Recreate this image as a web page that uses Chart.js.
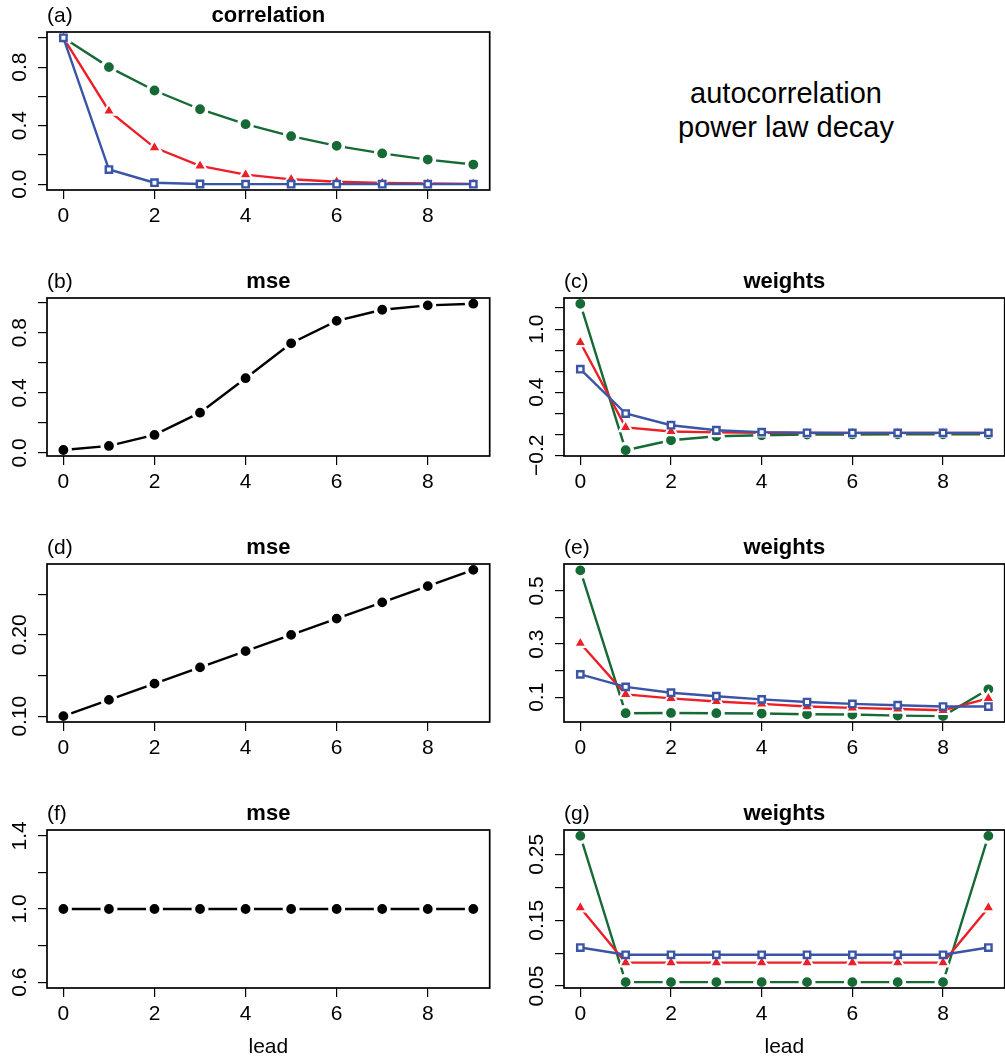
<!DOCTYPE html>
<html>
<head>
<meta charset="utf-8">
<script src="https://cdn.jsdelivr.net/npm/chart.js@4.4.1/dist/chart.umd.min.js"></script>
<style>
  html, body { margin: 0; padding: 0; background: #fff; overflow: hidden; }
  #wrap { position: relative; width: 1005px; height: 1061px; overflow: hidden; background: #fff; }
  canvas { position: absolute; }
  #note { position: absolute; left: 586px; width: 400px; top: 77.2px; text-align: center;
          font-family: "Liberation Sans", Arial, Helvetica, sans-serif; font-size: 29px;
          line-height: 33.4px; color: #000; }
</style>
</head>
<body>
<div id="wrap">
  <div id="note">autocorrelation<br>power law decay</div>
  <canvas id="ca" width="500" height="266" style="left:0;top:0"></canvas>
  <canvas id="cb" width="500" height="266" style="left:0;top:266px"></canvas>
  <canvas id="cc" width="515" height="266" style="left:500px;top:266px"></canvas>
  <canvas id="cd" width="500" height="266" style="left:0;top:532px"></canvas>
  <canvas id="ce" width="515" height="266" style="left:500px;top:532px"></canvas>
  <canvas id="cf" width="500" height="263" style="left:0;top:798px"></canvas>
  <canvas id="cg" width="515" height="263" style="left:500px;top:798px"></canvas>
</div>
<script>
// ---------------- data ----------------
const leads = [0, 1, 2, 3, 4, 5, 6, 7, 8, 9];
const xTicks = [0, 2, 4, 6, 8];
const xTickLabels = ["0", "2", "4", "6", "8"];

// (a) correlation
const corrGreen = [1.0, 0.8, 0.64, 0.512, 0.41, 0.328, 0.262, 0.21, 0.168, 0.134];
const corrRed   = [1.0, 0.5, 0.25, 0.125, 0.065, 0.033, 0.016, 0.008, 0.004, 0.002];
const corrBlue  = [1.0, 0.1, 0.01, 0.001, 0.0, 0.0, 0.0, 0.0, 0.0, 0.0];
const aYTicks = [0, 0.2, 0.4, 0.6, 0.8, 1.0];
const aYLabels = ["0.0", "0.4", "0.8"];

// (b) mse
const mseB = [0.02, 0.047, 0.12, 0.268, 0.497, 0.729, 0.878, 0.952, 0.981, 0.992];
const bYTicks = [0, 0.2, 0.4, 0.6, 0.8, 1.0];
const bYLabels = ["0.0", "0.4", "0.8"];

// (c) weights
const wcGreen = [1.241, -0.152, -0.057, -0.019, -0.01, -0.004, -0.002, -0.001, 0.0, 0.0];
const wcRed   = [0.873, 0.065, 0.026, 0.018, 0.014, 0.012, 0.012, 0.012, 0.012, 0.012];
const wcBlue  = [0.619, 0.197, 0.086, 0.038, 0.02, 0.014, 0.013, 0.013, 0.013, 0.013];
const cYTicks = [-0.2, 0, 0.2, 0.4, 0.6, 0.8, 1.0, 1.2];
const cYLabels = ["\u22120.2", "0.4", "1.0"];

// (d) mse
const mseD = [0.10, 0.12, 0.14, 0.16, 0.18, 0.20, 0.22, 0.24, 0.26, 0.28];
const dYTicks = [0.10, 0.15, 0.20, 0.25];
const dYLabels = ["0.10", "0.20"];

// (e) weights
const weGreen = [0.577, 0.040, 0.041, 0.040, 0.039, 0.036, 0.035, 0.031, 0.029, 0.130];
const weRed   = [0.303, 0.111, 0.096, 0.084, 0.075, 0.065, 0.060, 0.056, 0.051, 0.096];
const weBlue  = [0.186, 0.139, 0.117, 0.104, 0.092, 0.082, 0.075, 0.070, 0.065, 0.065];
const eYTicks = [0.1, 0.2, 0.3, 0.4, 0.5];
const eYLabels = ["0.1", "0.3", "0.5"];

// (f) mse
const mseF = [1.0, 1.0, 1.0, 1.0, 1.0, 1.0, 1.0, 1.0, 1.0, 1.0];
const fYTicks = [0.6, 0.8, 1.0, 1.2, 1.4];
const fYLabels = ["0.6", "1.0", "1.4"];

// (g) weights
const wgGreen = [0.278, 0.056, 0.056, 0.056, 0.056, 0.056, 0.056, 0.056, 0.056, 0.278];
const wgRed   = [0.169, 0.0856, 0.0856, 0.0856, 0.0856, 0.0856, 0.0856, 0.0856, 0.0856, 0.169];
const wgBlue  = [0.1085, 0.0975, 0.0975, 0.0975, 0.0975, 0.0975, 0.0975, 0.0975, 0.0975, 0.1085];
const gYTicks = [0.05, 0.10, 0.15, 0.20, 0.25];
const gYLabels = ["0.05", "0.15", "0.25"];

// ---------------- styling ----------------
const FONT = '"Liberation Sans", Arial, Helvetica, sans-serif';
const GREEN = '#166a36';
const RED = '#ec1f27';
const BLUE = '#3a55a6';
const BLACK = '#000000';
Chart.defaults.font.family = FONT;
Chart.defaults.color = '#000';

function series(values, color, kind, order) {
  const base = {
    data: leads.map((x, i) => ({ x: x, y: values[i] })),
    borderColor: color,
    borderWidth: 2.4,
    tension: 0,
    fill: false,
    order: order
  };
  if (kind === 'circle') {
    Object.assign(base, { pointStyle: 'circle', pointRadius: 6.7, pointBorderWidth: 3.6,
      pointBackgroundColor: color, pointBorderColor: '#ffffff' });
  } else if (kind === 'triangle') {
    Object.assign(base, { pointStyle: 'triangle', pointRadius: 7.4, pointBorderWidth: 2.2,
      pointBackgroundColor: color, pointBorderColor: '#ffffff' });
  } else {
    Object.assign(base, { pointStyle: 'rect', pointRadius: 4.5, pointBorderWidth: 2.4,
      pointBackgroundColor: '#ffffff', pointBorderColor: color });
  }
  return base;
}

const rDecor = {
  id: 'rdecor',
  afterDraw(chart, args, opts) {
    const ctx = chart.ctx;
    const a = chart.chartArea;
    const ys = chart.scales.y;
    ctx.save();
    ctx.strokeStyle = '#000';
    ctx.lineWidth = 1.7;
    ctx.strokeRect(a.left, a.top, a.right - a.left, a.bottom - a.top);
    ctx.fillStyle = '#000';
    ctx.font = '21px ' + FONT;
    ctx.textAlign = 'left';
    ctx.textBaseline = 'alphabetic';
    ctx.fillText(opts.letter, a.left, a.top - 10);
    opts.yLabels.forEach(txt => {
      const v = parseFloat(txt.replace('\u2212', '-'));
      const py = ys.getPixelForValue(v);
      ctx.save();
      ctx.translate(a.left - 21, py);
      ctx.rotate(-Math.PI / 2);
      ctx.textAlign = 'center';
      ctx.textBaseline = 'alphabetic';
      ctx.fillText(txt, 0, 0);
      ctx.restore();
    });
    ctx.restore();
  }
};

function makePanel(cfg) {
  const tickGrid = { drawOnChartArea: false, drawTicks: true, tickLength: 9, color: '#000', lineWidth: 1.2 };
  new Chart(document.getElementById(cfg.canvas), {
    type: 'line',
    data: { datasets: cfg.datasets },
    plugins: [rDecor],
    options: {
      responsive: false,
      animation: false,
      events: [],
      devicePixelRatio: 1,
      layout: { padding: { left: 0, right: cfg.padR, top: 0, bottom: 0 } },
      plugins: {
        legend: { display: false },
        tooltip: { enabled: false },
        title: {
          display: true, text: cfg.title, fullSize: false, color: '#000',
          font: { family: FONT, size: 22, weight: 'bold', lineHeight: 1.2 },
          padding: { top: 2.3, bottom: 3.3 }
        },
        rdecor: { letter: cfg.letter, yLabels: cfg.yLabels }
      },
      scales: {
        x: {
          type: 'linear', min: -0.36, max: 9.36,
          afterBuildTicks: s => { s.ticks = xTicks.map(v => ({ value: v })); },
          afterFit: s => { s.height = cfg.xH; },
          ticks: {
            display: true, autoSkip: false, maxRotation: 0, minRotation: 0, padding: 4.4,
            color: '#000', font: { family: FONT, size: 21, lineHeight: 1.2 },
            callback: (v) => xTickLabels[xTicks.indexOf(v)]
          },
          grid: tickGrid,
          border: { display: false },
          title: {
            display: !!cfg.xTitle, text: cfg.xTitle || '', color: '#000',
            font: { family: FONT, size: 21, lineHeight: 1.2 },
            padding: { top: 0, bottom: 0.7 }
          }
        },
        y: {
          type: 'linear', min: cfg.yMin, max: cfg.yMax,
          afterBuildTicks: s => { s.ticks = cfg.yTicks.map(v => ({ value: v })); },
          afterFit: s => { s.width = cfg.axisW; },
          ticks: { display: false },
          grid: tickGrid,
          border: { display: false }
        }
      }
    }
  });
}

const LEFT = { axisW: 47, padR: 7 };
const RIGHT = { axisW: 64, padR: 4 };

makePanel(Object.assign({ canvas: 'ca', letter: '(a)', title: 'correlation', xH: 76,
  yMin: -0.04, yMax: 1.04, yTicks: aYTicks, yLabels: aYLabels,
  datasets: [series(corrBlue, BLUE, 'rect', 1), series(corrRed, RED, 'triangle', 2), series(corrGreen, GREEN, 'circle', 3)] }, LEFT));

makePanel(Object.assign({ canvas: 'cb', letter: '(b)', title: 'mse', xH: 76,
  yMin: -0.02, yMax: 1.03, yTicks: bYTicks, yLabels: bYLabels,
  datasets: [series(mseB, BLACK, 'circle', 1)] }, LEFT));

makePanel(Object.assign({ canvas: 'cc', letter: '(c)', title: 'weights', xH: 76,
  yMin: -0.207, yMax: 1.296, yTicks: cYTicks, yLabels: cYLabels,
  datasets: [series(wcBlue, BLUE, 'rect', 1), series(wcRed, RED, 'triangle', 2), series(wcGreen, GREEN, 'circle', 3)] }, RIGHT));

makePanel(Object.assign({ canvas: 'cd', letter: '(d)', title: 'mse', xH: 76,
  yMin: 0.0928, yMax: 0.2872, yTicks: dYTicks, yLabels: dYLabels,
  datasets: [series(mseD, BLACK, 'circle', 1)] }, LEFT));

makePanel(Object.assign({ canvas: 'ce', letter: '(e)', title: 'weights', xH: 76,
  yMin: 0.007, yMax: 0.601, yTicks: eYTicks, yLabels: eYLabels,
  datasets: [series(weBlue, BLUE, 'rect', 1), series(weRed, RED, 'triangle', 2), series(weGreen, GREEN, 'circle', 3)] }, RIGHT));

makePanel(Object.assign({ canvas: 'cf', letter: '(f)', title: 'mse', xH: 73, xTitle: 'lead',
  yMin: 0.568, yMax: 1.432, yTicks: fYTicks, yLabels: fYLabels,
  datasets: [series(mseF, BLACK, 'circle', 1)] }, LEFT));

makePanel(Object.assign({ canvas: 'cg', letter: '(g)', title: 'weights', xH: 73, xTitle: 'lead',
  yMin: 0.0471, yMax: 0.2869, yTicks: gYTicks, yLabels: gYLabels,
  datasets: [series(wgBlue, BLUE, 'rect', 1), series(wgRed, RED, 'triangle', 2), series(wgGreen, GREEN, 'circle', 3)] }, RIGHT));
</script>
</body>
</html>
